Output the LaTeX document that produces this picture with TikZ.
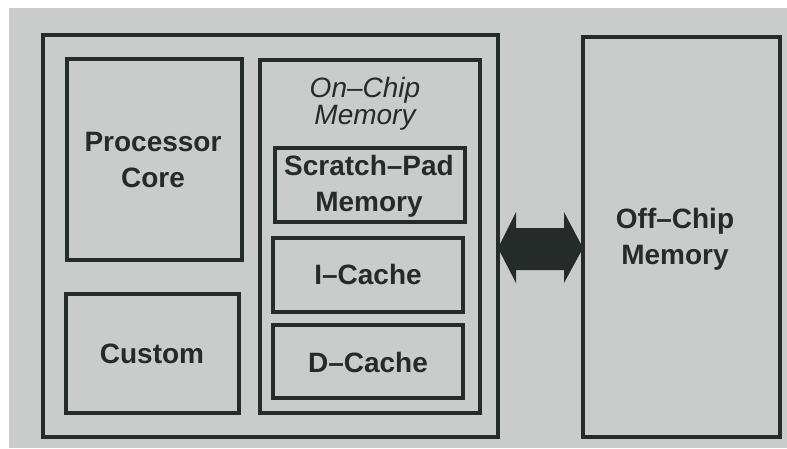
\documentclass[tikz,border=0pt]{standalone}
\usepackage{fontspec}
\setmainfont{Liberation Sans}
\usetikzlibrary{calc}
\definecolor{paper}{HTML}{C9CCCA}
\definecolor{ink}{HTML}{252B29}
\tikzset{
  box/.style={draw=ink, line width=3.4pt, rectangle, inner sep=0pt, outer sep=0pt},
  lbl/.style={text=ink, font=\fontsize{28}{36}\selectfont\bfseries, align=center},
  ilbl/.style={text=ink, font=\fontsize{28}{27}\selectfont\itshape, align=center},
}
\begin{document}
\begin{tikzpicture}[x=1pt, y=-1pt]
\useasboundingbox (0,0) rectangle (787,448);
\fill[white] (0,0) rectangle (787,448);
\fill[paper] (9,8) rectangle (787,448);
% boxes
\node[box, minimum width=455pt, minimum height=402pt] (chip) at (270.5,236) {};
\node[box, minimum width=175pt, minimum height=201pt] (core) at (154.5,159.5) {};
\node[box, minimum width=173pt, minimum height=119pt] (custom) at (152.5,353.5) {};
\node[box, minimum width=220pt, minimum height=353pt] (onchip) at (370,236.5) {};
\node[box, minimum width=190pt, minimum height=74pt] (spm) at (370,185) {};
\node[box, minimum width=190pt, minimum height=74pt] (icache) at (368,275) {};
\node[box, minimum width=190pt, minimum height=73pt] (dcache) at (368,361.5) {};
\node[box, minimum width=197pt, minimum height=400pt] (offchip) at (681.5,237) {};
% labels
\node[lbl] (tcore) at (153,160) {Processor\\Core};
\node[lbl] (tcustom) at (152,354) {Custom};
\node[ilbl] (tonchip) at (365,104) {On--Chip\\Memory};
\node[lbl] (tspm) at (369,186) {Scratch--Pad\\Memory};
\node[lbl] (ticache) at (368,274) {I--Cache};
\node[lbl] (tdcache) at (368,362) {D--Cache};
\node[lbl] (toff) at (675,239) {Off--Chip\\Memory};
% double arrow between chip and off-chip memory
\coordinate (aL) at (chip.east |- 0,248);
\coordinate (aR) at (offchip.west |- 0,248);
\fill[ink] (aL) -- ++(18,-36) -- ++(0,16) -- ($(aR)+(-19,-20)$) -- ++(0,-16)
  -- (aR) -- ++(-19,35) -- ++(0,-13) -- ($(aL)+(18,22)$) -- ++(0,13) -- cycle;
\end{tikzpicture}
\end{document}
